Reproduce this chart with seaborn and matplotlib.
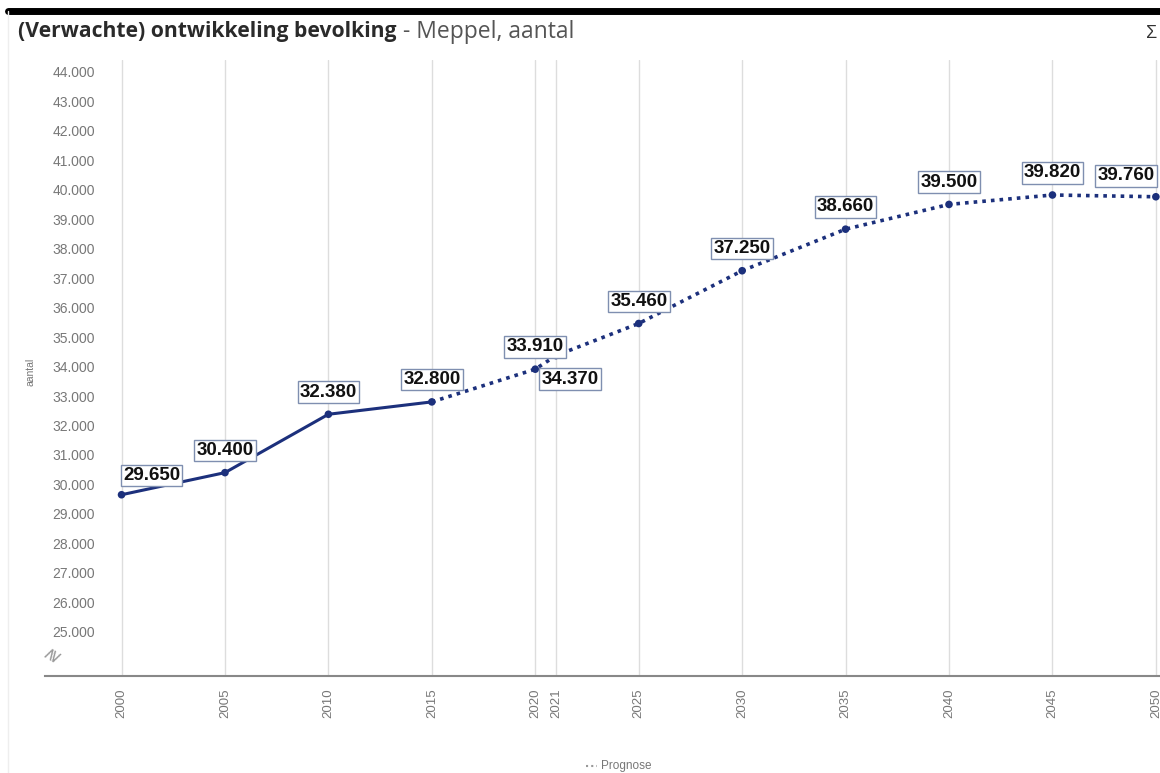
import matplotlib
matplotlib.use("Agg")
import matplotlib.pyplot as plt
import seaborn as sns
import pandas as pd

# Data
years = [2000, 2005, 2010, 2015, 2020, 2021, 2025, 2030, 2035, 2040, 2045, 2050]
values = [29650, 30400, 32380, 32800, 33910, 34370, 35460, 37250, 38660, 39500, 39820, 39760]
last_observed = 2015
tick_years = [2000, 2005, 2010, 2015, 2020, 2021, 2025, 2030, 2035, 2040, 2045, 2050]
y_ticks = list(range(25000, 44001, 1000))

df = pd.DataFrame({"jaar": years, "aantal": values})
observed = df[df["jaar"] <= last_observed]
forecast = df[df["jaar"] >= last_observed]


def nl(v):
    return f"{v:,.0f}".replace(",", ".")


sns.set_style("white")
plt.rcParams["font.family"] = ["Liberation Sans", "DejaVu Sans"]

line_color = "#1c307c"
grey = "#777777"

fig = plt.figure(figsize=(11.6, 7.73), dpi=100)
ax = fig.add_axes([45 / 1160, 1 - 676 / 773, 1 - 45 / 1160, (676 - 60) / 773])

sns.lineplot(data=observed, x="jaar", y="aantal", ax=ax, color=line_color, linewidth=2.2)
sns.lineplot(data=forecast, x="jaar", y="aantal", ax=ax, color=line_color,
             linewidth=2.6, linestyle=(0, (1, 1.4)))
sns.scatterplot(data=df, x="jaar", y="aantal", ax=ax, color=line_color, s=30,
                edgecolor="none", zorder=5)

ax.set_xlim(1996.3, 2050.2)
ax.set_ylim(23500, 44400)
ax.set_xticks(tick_years)
ax.set_xticklabels([str(y) for y in tick_years], rotation=90, color=grey, fontsize=9.5)
ax.set_yticks(y_ticks)
ax.set_yticklabels([nl(v) for v in y_ticks], color=grey, fontsize=10)
ax.tick_params(axis="y", length=0, pad=-36)
ax.tick_params(axis="x", length=0, pad=9)
ax.set_xlabel("")
ax.set_ylabel("")
for x in tick_years:
    ax.axvline(x, color="#dddddd", linewidth=1, zorder=0)

for s in ["top", "right", "left"]:
    ax.spines[s].set_visible(False)
ax.spines["bottom"].set_color("#888888")
ax.spines["bottom"].set_linewidth(1.5)

# value labels
offsets = {2000: (1, 14, "left"), 2021: (10, -17, "center"), 2050: (-1, 15, "right")}
for x, v in zip(years, values):
    dx, dy, ha = offsets.get(x, (0, 16, "center"))
    ax.annotate(nl(v), (x, v), xytext=(dx, dy), textcoords="offset points",
                ha=ha, va="center", fontsize=13.5, fontweight="bold", color="#111111",
                bbox=dict(boxstyle="square,pad=0.12", fc="white", ec="#7f8fb0", lw=1),
                zorder=6, annotation_clip=False)

# axis break mark
ax.text(0.007, 0.035, "≷", transform=ax.transAxes, fontsize=13, color="#999999",
        rotation=60, ha="center", va="center")

fig.text(30 / 1160, 1 - 372 / 773, "aantal", rotation=90, fontsize=7.5, color=grey,
         ha="center", va="center")

# title
t1 = fig.text(18 / 1160, 1 - 32 / 773, "(Verwachte) ontwikkeling bevolking",
              fontsize=15.2, fontweight="bold", color="#2a2a2a", va="center",
              family=["Open Sans", "DejaVu Sans"])
fig.canvas.draw()
bb = t1.get_window_extent()
fig.text(bb.x1 / fig.bbox.width + 0.006, 1 - 32 / 773, "- Meppel, aantal",
         fontsize=16.5, color="#555555", va="center", family=["Open Sans", "DejaVu Sans"])

# top bar and page border
fig.add_artist(plt.Line2D([8 / 1160, 1], [1 - 11 / 773, 1 - 11 / 773], color="black", lw=5))
fig.add_artist(plt.Line2D([8 / 1160, 8 / 1160], [0, 1 - 11 / 773], color="#eeeeee", lw=1))
fig.text(1152 / 1160, 1 - 33 / 773, "Σ", fontsize=13, color="#333333", ha="center", va="center")

# legend
fig.add_artist(plt.Line2D([586 / 1160, 597 / 1160], [1 - 766 / 773, 1 - 766 / 773],
                          color="#999999", lw=1.5, linestyle=(0, (1, 1.5))))
fig.text(601 / 1160, 1 - 766 / 773, "Prognose", fontsize=8.5, color=grey, va="center")

fig.savefig("out.png", dpi=100)
